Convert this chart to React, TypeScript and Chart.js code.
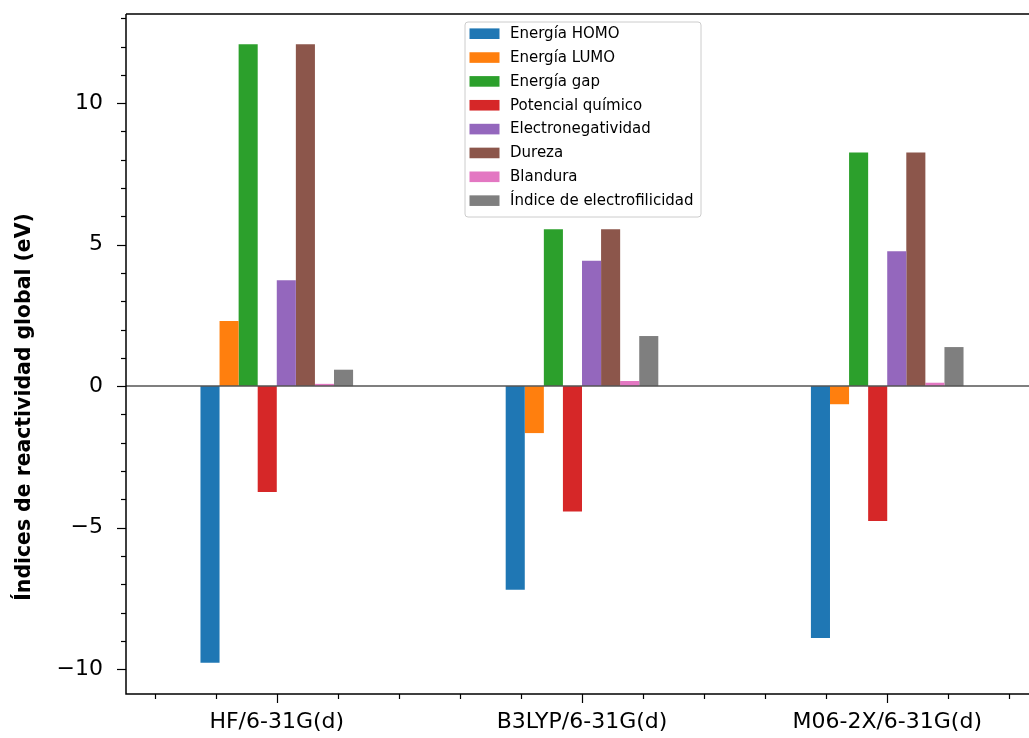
import React, { useEffect, useRef } from "react";
import { Chart, registerables } from "chart.js";

Chart.register(...registerables);

const categories = ["HF/6-31G(d)", "B3LYP/6-31G(d)", "M06-2X/6-31G(d)"];
const categoryPositions = [0, 1, 2];

const energiaHomo = [-9.78, -7.2, -8.9];
const energiaLumo = [2.3, -1.66, -0.64];
const energiaGap = [12.08, 5.54, 8.26];
const potencialQuimico = [-3.74, -4.43, -4.77];
const electronegatividad = [3.74, 4.43, 4.77];
const dureza = [12.08, 5.54, 8.26];
const blandura = [0.08, 0.18, 0.12];
const indiceElectrofilicidad = [0.58, 1.77, 1.38];

const seriesNames = [
  "Energía HOMO",
  "Energía LUMO",
  "Energía gap",
  "Potencial químico",
  "Electronegatividad",
  "Dureza",
  "Blandura",
  "Índice de electrofilicidad",
];
const seriesValues = [
  energiaHomo,
  energiaLumo,
  energiaGap,
  potencialQuimico,
  electronegatividad,
  dureza,
  blandura,
  indiceElectrofilicidad,
];
const seriesColors = [
  "#1f77b4",
  "#ff7f0e",
  "#2ca02c",
  "#d62728",
  "#9467bd",
  "#8c564b",
  "#e377c2",
  "#7f7f7f",
];

const yTickValues = [-10, -5, 0, 5, 10];
const yMinorStep = 1;
const xMinorStep = 0.2;
const yLabel = "Índices de reactividad global (eV)";

const X_MIN = -0.494;
const X_MAX = 2.494;
const Y_MIN = -10.88;
const Y_MAX = 13.15;

const fmt = (v: number) => (v < 0 ? "\u2212" + Math.abs(v) : String(v));

const zeroPad = (s: any) => {
  s.paddingTop = 0;
  s.paddingBottom = 0;
  s.paddingLeft = 0;
  s.paddingRight = 0;
};

const decorPlugin = {
  id: "decor",
  afterDatasetsDraw(chart: any) {
    const { ctx, chartArea } = chart;
    const y = chart.scales.y.getPixelForValue(0);
    ctx.save();
    ctx.strokeStyle = "#555555";
    ctx.lineWidth = 1.5;
    ctx.beginPath();
    ctx.moveTo(chartArea.left, y);
    ctx.lineTo(chartArea.right, y);
    ctx.stroke();
    ctx.restore();
  },
  afterDraw(chart: any) {
    const { ctx, chartArea } = chart;
    const xs = chart.scales.x;
    const ys = chart.scales.y;
    ctx.save();
    // spines
    ctx.strokeStyle = "#000";
    ctx.lineWidth = 1.5;
    ctx.beginPath();
    ctx.moveTo(chartArea.left, chartArea.top);
    ctx.lineTo(chartArea.right, chartArea.top);
    ctx.moveTo(chartArea.left, chartArea.top);
    ctx.lineTo(chartArea.left, chartArea.bottom);
    ctx.lineTo(chartArea.right, chartArea.bottom);
    ctx.moveTo(chartArea.right, chartArea.top);
    ctx.lineTo(chartArea.right, chartArea.bottom);
    ctx.stroke();

    // y ticks
    ctx.lineWidth = 1.2;
    for (let v = Math.ceil(Y_MIN); v <= Y_MAX; v += yMinorStep) {
      const major = v % 5 === 0;
      const py = Math.round(ys.getPixelForValue(v)) + 0.5;
      const len = major ? 9 : 5;
      ctx.beginPath();
      ctx.moveTo(chartArea.left - len, py);
      ctx.lineTo(chartArea.left, py);
      ctx.stroke();
    }
    // x ticks
    const start = Math.ceil(X_MIN / xMinorStep);
    const end = Math.floor(X_MAX / xMinorStep);
    for (let k = start; k <= end; k++) {
      const v = k * xMinorStep;
      const major = k % 5 === 0;
      const px = Math.round(xs.getPixelForValue(v)) + 0.5;
      const len = major ? 9 : 5;
      ctx.beginPath();
      ctx.moveTo(px, chartArea.bottom);
      ctx.lineTo(px, chartArea.bottom + len);
      ctx.stroke();
    }

    // y title
    ctx.save();
    ctx.translate(25, 407);
    ctx.rotate(-Math.PI / 2);
    ctx.fillStyle = "#000";
    ctx.font = "bold 20.4px 'DejaVu Sans'";
    ctx.textAlign = "center";
    ctx.textBaseline = "middle";
    ctx.fillText(yLabel, 0, 0);
    ctx.restore();

    // legend
    const lx = 465;
    const ly = 22;
    const lw = 236;
    const lh = 195;
    const r = 3;
    ctx.beginPath();
    ctx.moveTo(lx + r, ly);
    ctx.lineTo(lx + lw - r, ly);
    ctx.quadraticCurveTo(lx + lw, ly, lx + lw, ly + r);
    ctx.lineTo(lx + lw, ly + lh - r);
    ctx.quadraticCurveTo(lx + lw, ly + lh, lx + lw - r, ly + lh);
    ctx.lineTo(lx + r, ly + lh);
    ctx.quadraticCurveTo(lx, ly + lh, lx, ly + lh - r);
    ctx.lineTo(lx, ly + r);
    ctx.quadraticCurveTo(lx, ly, lx + r, ly);
    ctx.closePath();
    ctx.fillStyle = "rgba(255,255,255,0.8)";
    ctx.fill();
    ctx.strokeStyle = "#cccccc";
    ctx.lineWidth = 1;
    ctx.stroke();

    ctx.font = "15px 'DejaVu Sans'";
    ctx.textAlign = "left";
    ctx.textBaseline = "middle";
    seriesNames.forEach((name, i) => {
      const cy = 33.7 + i * 23.85;
      ctx.fillStyle = seriesColors[i];
      ctx.fillRect(469.5, cy - 5.3, 30, 10.6);
      ctx.fillStyle = "#000";
      ctx.fillText(name, 510, cy + 0.5);
    });
    ctx.restore();
  },
};

export default function App() {
  const ref = useRef<HTMLCanvasElement | null>(null);

  useEffect(() => {
    const canvas = ref.current;
    if (!canvas) return;
    const datasets = seriesNames.map((name, i) => ({
      label: name,
      data: categoryPositions.map((x, j) => ({ x, y: seriesValues[i][j] })),
      backgroundColor: seriesColors[i],
      borderWidth: 0,
      categoryPercentage: 0.5,
      barPercentage: 1,
    }));
    const chart = new Chart(canvas, {
      type: "bar",
      data: { datasets },
      options: {
        animation: false,
        responsive: false,
        devicePixelRatio: 1,
        layout: { padding: { top: 14, right: 2, left: 0, bottom: 0 } },
        plugins: {
          legend: { display: false },
          tooltip: { enabled: false },
        },
        scales: {
          x: {
            type: "linear",
            min: X_MIN,
            max: X_MAX,
            offset: false,
            grid: { display: false, drawTicks: false },
            border: { display: false },
            afterBuildTicks: (s: any) => {
              s.ticks = categoryPositions.map((v) => ({ value: v }));
            },
            afterFit: (s: any) => {
              s.height = 44;
              zeroPad(s);
            },
            ticks: {
              autoSkip: false,
              maxRotation: 0,
              padding: 15,
              color: "#000",
              font: { family: "'DejaVu Sans'", size: 22 },
              callback: (v: any) => {
                const idx = categoryPositions.indexOf(Number(v));
                return idx >= 0 ? categories[idx] : "";
              },
            },
          },
          y: {
            type: "linear",
            min: Y_MIN,
            max: Y_MAX,
            grid: { display: false, drawTicks: false },
            border: { display: false },
            afterBuildTicks: (s: any) => {
              s.ticks = yTickValues.map((v) => ({ value: v }));
            },
            afterFit: (s: any) => {
              s.width = 126;
              zeroPad(s);
            },
            ticks: {
              autoSkip: false,
              padding: 23,
              color: "#000",
              font: { family: "'DejaVu Sans'", size: 22 },
              callback: (v: any) => fmt(Number(v)),
            },
          },
        },
      },
      plugins: [decorPlugin],
    });
    return () => chart.destroy();
  }, []);

  return (
    <div
      style={{
        position: "fixed",
        left: 0,
        top: 0,
        width: 1029,
        height: 738,
        overflow: "hidden",
        background: "#fff",
      }}
    >
      <canvas
        ref={ref}
        width={1040}
        height={738}
        style={{ width: 1040, height: 738, display: "block" }}
      />
    </div>
  );
}
